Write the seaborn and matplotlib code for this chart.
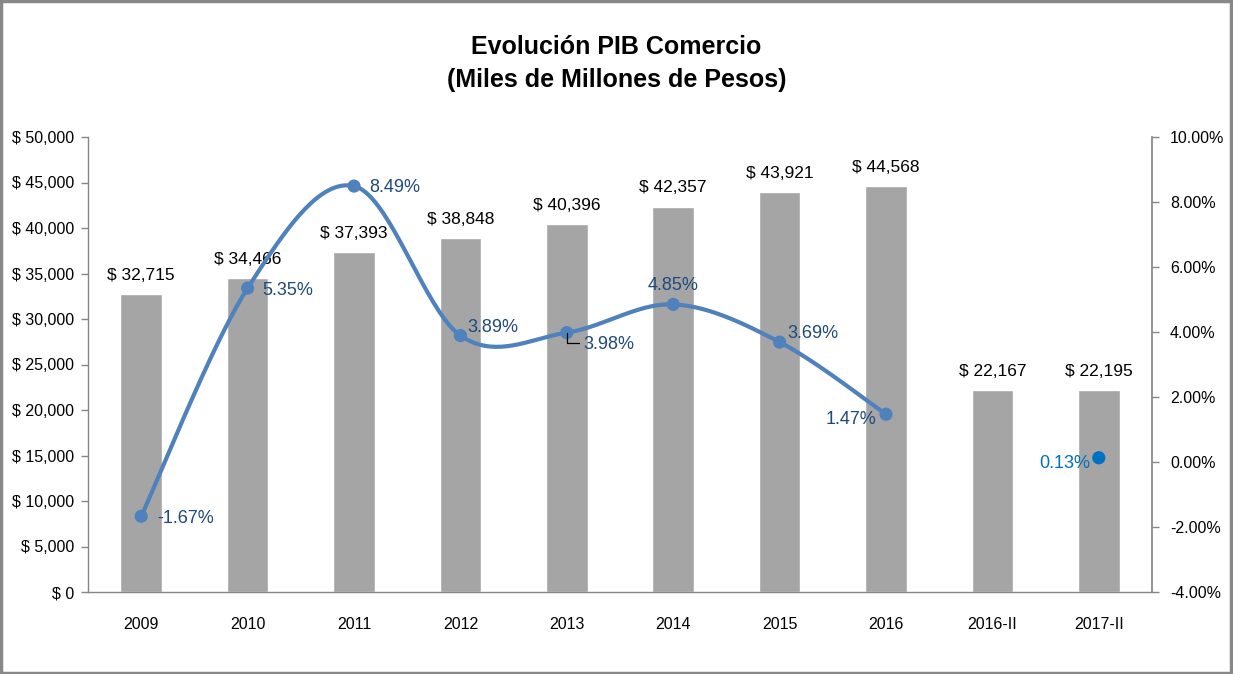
import numpy as np
import pandas as pd
import matplotlib
matplotlib.use("Agg")
import matplotlib.pyplot as plt
from matplotlib import font_manager
from matplotlib.patches import Rectangle
import seaborn as sns

categories = ["2009", "2010", "2011", "2012", "2013", "2014", "2015", "2016", "2016-II", "2017-II"]
pib_values = [32715, 34466, 37393, 38848, 40396, 42357, 43921, 44568, 22167, 22195]
growth_cats = ["2009", "2010", "2011", "2012", "2013", "2014", "2015", "2016"]
growth_values = [-1.67, 5.35, 8.49, 3.89, 3.98, 4.85, 3.69, 1.47]
last_cat = "2017-II"
last_growth = 0.13
left_ticks = list(range(0, 50001, 5000))
right_ticks = list(range(-4, 11, 2))

sns.set_theme(style="white")
avail = {f.name for f in font_manager.fontManager.ttflist}
fam = "Liberation Sans Narrow" if "Liberation Sans Narrow" in avail else "Liberation Sans"
plt.rcParams["font.family"] = [fam, "DejaVu Sans"]
FS = 11.5
FS_BAR = 12.5
FS_PCT = 13

W, H = 1233, 674
fig = plt.figure(figsize=(W / 100, H / 100), dpi=100)
ax = fig.add_axes([88 / W, 1 - 592 / H, (1152 - 88) / W, (592 - 137) / H])

df = pd.DataFrame({"cat": categories, "val": pib_values})
sns.barplot(data=df, x="cat", y="val", color="#A5A5A5", saturation=1, width=0.39, ax=ax)
ax.set_xlim(-0.5, len(categories) - 0.5)
ax.set_ylim(0, 50000)
ax.set_yticks(left_ticks)
ax.set_yticklabels([f"$ {v:,}" for v in left_ticks], fontsize=FS, color="black")
ax.tick_params(axis="y", which="both", left=True, length=5, width=1, color="#868686", pad=5)
ax.tick_params(axis="x", bottom=False, labelsize=FS, pad=12, labelcolor="black")
ax.set_xlabel("")
ax.set_ylabel("")
for s in ["top", "right"]:
    ax.spines[s].set_visible(False)
for s in ["left", "bottom"]:
    ax.spines[s].set_color("#868686")
    ax.spines[s].set_linewidth(1)
ax.grid(False)

for i, v in enumerate(pib_values):
    ax.annotate(f"$ {v:,}", (i, v), xytext=(0, 8), textcoords="offset points",
                ha="center", va="bottom", fontsize=FS_BAR, color="black")

ax2 = ax.twinx()
ax2.set_ylim(-4, 10)
ax2.set_yticks(right_ticks)
ax2.set_yticklabels([f"{v:.2f}%" for v in right_ticks], fontsize=FS, color="black")
ax2.tick_params(axis="y", right=True, length=5, width=1, color="#868686", pad=8)
for s in ["top", "left", "bottom"]:
    ax2.spines[s].set_visible(False)
ax2.spines["right"].set_color("#868686")
ax2.grid(False)

# smooth curve (Excel-style) in display space
xi = np.array([categories.index(c) for c in growth_cats], dtype=float)
yi = np.array(growth_values, dtype=float)
fig.canvas.draw()
pts = ax2.transData.transform(np.column_stack([xi, yi]))
path = []
n = len(pts)
for k in range(n - 1):
    p0 = pts[k - 1] if k > 0 else pts[k]
    p1 = pts[k]
    p2 = pts[k + 1]
    p3 = pts[k + 2] if k + 2 < n else pts[k + 1]
    c1 = p1 + (p2 - p0) / 6
    c2 = p2 - (p3 - p1) / 6
    t = np.linspace(0, 1, 40)[:, None]
    seg = (1 - t) ** 3 * p1 + 3 * (1 - t) ** 2 * t * c1 + 3 * (1 - t) * t ** 2 * c2 + t ** 3 * p2
    path.append(seg if k == 0 else seg[1:])
path = np.vstack(path)
curve = ax2.transData.inverted().transform(path)
ax2.plot(curve[:, 0], curve[:, 1], color="#4F81BD", lw=3, solid_capstyle="round", zorder=3)

gdf = pd.DataFrame({"x": xi, "y": yi})
sns.scatterplot(data=gdf, x="x", y="y", ax=ax2, color="#4F81BD", s=90, edgecolor="none", zorder=4, legend=False)
sns.scatterplot(x=[float(categories.index(last_cat))], y=[last_growth], ax=ax2, color="#0070C0",
                s=90, edgecolor="none", zorder=4, legend=False)
ax2.set_xlabel("")
ax2.set_ylabel("")

# label offsets in pixels (dx, dy: dy positive = up), alignment
offs = [(16, -2, "left"), (15, -2, "left"), (15, -1, "left"), (7, 8, "left"),
        (17, -12, "left"), (0, 19, "center"), (8, 9, "left"), (-10, -5, "right")]
lab_color = "#1F497D"
for (x, y), (dx, dy, ha) in zip(zip(xi, yi), offs):
    ax2.annotate(f"{y:.2f}%", (x, y), xytext=(dx * 0.72, dy * 0.72), textcoords="offset points",
                 ha=ha, va="center", fontsize=FS_PCT, color=lab_color, zorder=5)
# leader line for 2013 label
x13 = categories.index("2013")
p = ax2.transData.transform((x13, growth_values[4]))
lead = np.array([[p[0], p[1]], [p[0], p[1] - 10], [p[0] + 12, p[1] - 10]])
lead_d = ax2.transData.inverted().transform(lead)
ax2.plot(lead_d[:, 0], lead_d[:, 1], color="black", lw=0.9, zorder=5)

ax2.annotate(f"{last_growth:.2f}%", (categories.index(last_cat), last_growth), xytext=(-9 * 0.72, -6 * 0.72),
             textcoords="offset points", ha="right", va="center", fontsize=FS_PCT, color="#0070C0")
ax2.set_xlim(-0.5, len(categories) - 0.5)

fig.text(0.5, 1 - 47 / H, "Evolución PIB Comercio", ha="center", va="center",
         fontsize=18, fontweight="bold", color="black")
fig.text(0.5, 1 - 80 / H, "(Miles de Millones de Pesos)", ha="center", va="center",
         fontsize=18, fontweight="bold", color="black")

fig.patches.append(Rectangle((0.001, 0.002), 0.997, 0.996, transform=fig.transFigure,
                             fill=False, edgecolor="#888888", lw=2.5))

fig.savefig("out.png", dpi=100, facecolor="white")
